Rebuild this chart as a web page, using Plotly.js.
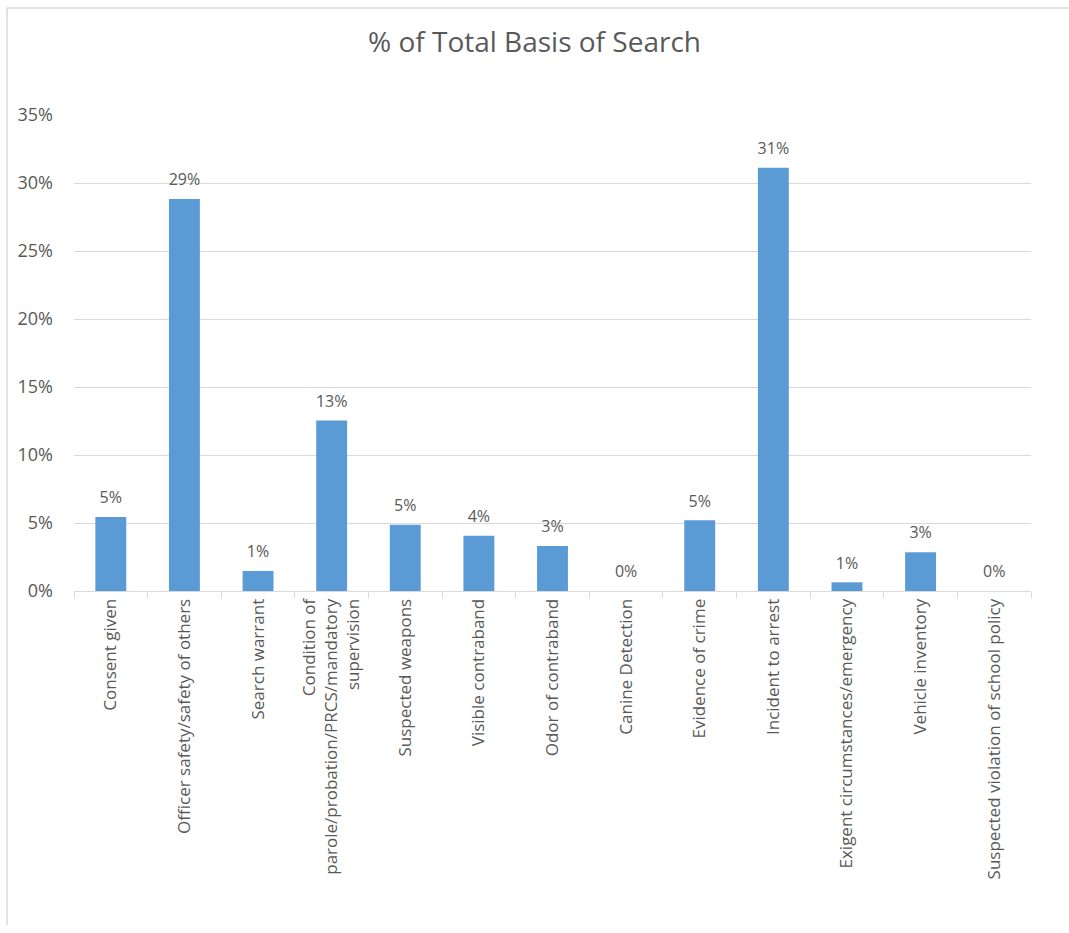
<!DOCTYPE html>
<html>
<head>
<meta charset="utf-8">
<script src="https://cdn.plot.ly/plotly-3.0.1.min.js"></script>
<style>
  html, body { margin: 0; padding: 0; background: #ffffff; }
  #chart { width: 1069px; height: 933px; }
</style>
</head>
<body>
<div id="chart"></div>
<script>
// ---- data ----
const categories = [
  "Consent given",
  "Officer safety/safety of others",
  "Search warrant",
  "Condition of<br>parole/probation/PRCS/mandatory<br>supervision",
  "Suspected weapons",
  "Visible contraband",
  "Odor of contraband",
  "Canine Detection",
  "Evidence of crime",
  "Incident to arrest",
  "Exigent circumstances/emergency",
  "Vehicle inventory",
  "Suspected violation of school policy"
];
const percentValues = [5.44, 28.82, 1.47, 12.53, 4.88, 4.07, 3.31, 0, 5.2, 31.13, 0.64, 2.85, 0];
const yTickValues = [0, 5, 10, 15, 20, 25, 30, 35];
const chartTitle = "% of Total Basis of Search";

// ---- style ----
const FONT = "Open Sans, Noto Sans, DejaVu Sans, sans-serif";
const TEXT = "#595959";
const GRID = "#D9D9D9";
const BAR = "#5B9BD5";
const W = 1069, H = 933;
const M = { l: 74, r: 38, t: 115, b: 342 };
const pw = W - M.l - M.r, ph = H - M.t - M.b;
const px2x = px => (px - M.l) / pw;
const py2y = py => (H - M.b - py) / ph;

const bars = {
  type: "bar",
  x: categories,
  y: percentValues,
  marker: { color: BAR },
  hoverinfo: "skip"
};

const labels = {
  type: "scatter",
  mode: "markers+text",
  x: categories,
  y: percentValues,
  text: percentValues.map(v => Math.round(v) + "%"),
  textposition: "top center",
  marker: { size: 14, color: "rgba(0,0,0,0)" },
  textfont: { family: FONT, size: 16, color: TEXT },
  cliponaxis: false,
  hoverinfo: "skip"
};

const layout = {
  width: W, height: H,
  margin: M,
  paper_bgcolor: "#ffffff",
  plot_bgcolor: "#ffffff",
  showlegend: false,
  bargap: 0.58,
  font: { family: FONT, color: TEXT },
  title: {
    text: chartTitle,
    font: { family: FONT, size: 28, color: TEXT },
    x: 0.5, xanchor: "center",
    y: 1 - 42 / H, yanchor: "middle", yref: "container"
  },
  xaxis: {
    type: "category",
    range: [-0.5, categories.length - 0.5],
    tickangle: -90,
    tickfont: { family: FONT, size: 17, color: TEXT },
    showgrid: false,
    showline: true, linecolor: GRID, linewidth: 1,
    ticks: "outside", tickson: "boundaries", ticklen: 6, tickcolor: GRID,
    automargin: false,
    fixedrange: true
  },
  yaxis: {
    range: [0, 35],
    tickvals: yTickValues,
    ticktext: yTickValues.map(v => v + "%"),
    tickfont: { family: FONT, size: 18, color: TEXT },
    showgrid: true, gridcolor: GRID, gridwidth: 1,
    zeroline: false, showline: false, ticks: "",
    ticklabelstandoff: 20,
    automargin: false,
    fixedrange: true
  },
  shapes: [
    { type: "line", xref: "paper", yref: "paper",
      x0: px2x(7), x1: px2x(W), y0: py2y(8), y1: py2y(8),
      line: { color: GRID, width: 1.5 } },
    { type: "line", xref: "paper", yref: "paper",
      x0: px2x(7), x1: px2x(7), y0: py2y(8), y1: py2y(925),
      line: { color: GRID, width: 1.5 } }
  ]
};

Plotly.newPlot("chart", [bars, labels], layout, { staticPlot: true, displayModeBar: false });
</script>
</body>
</html>
